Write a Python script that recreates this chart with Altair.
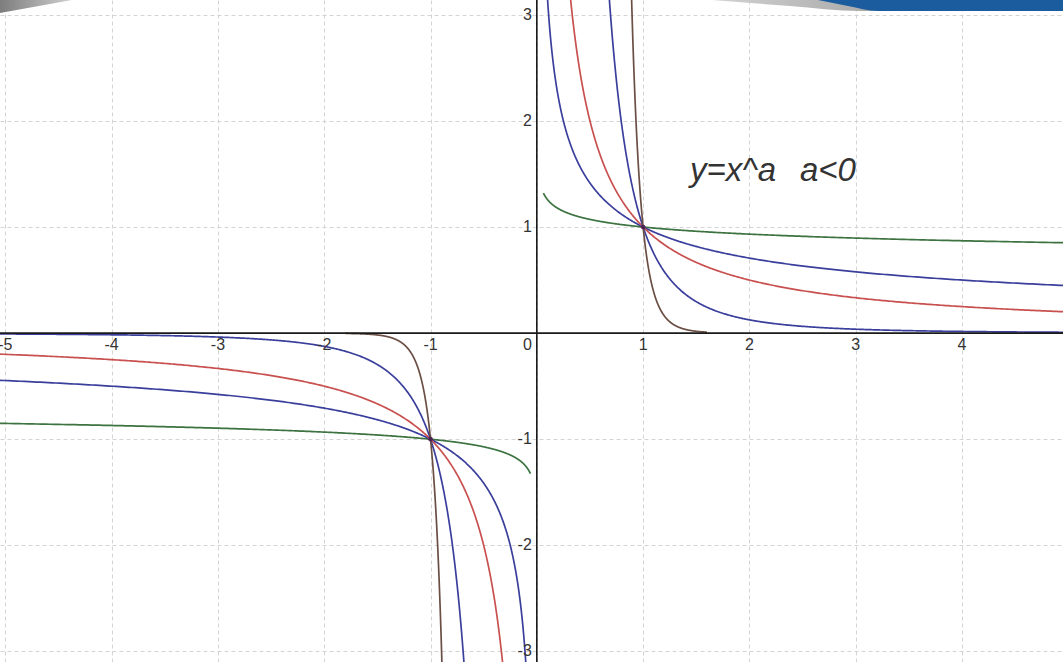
import altair as alt
import numpy as np
import pandas as pd

# Power functions y = x^a (a < 0), drawn as odd functions on both sides of the origin
exponents = [-0.1, -0.5, -1.0, -3.0, -10.0]
curve_names = ["a=-0.1", "a=-0.5", "a=-1", "a=-3", "a=-10"]
curve_colors = ["#3c7340", "#3b3f9c", "#c8504f", "#3b3f9c", "#6b4f45"]
right_start = [0.062, 0.10, 0.31, 0.68, 0.885]
right_end = [5.0, 5.0, 5.0, 5.0, 1.6]
left_start = [-5.05, -5.05, -5.05, -5.05, -1.8]
left_end = [-0.06, -0.10, -0.31, -0.68, -0.885]

x_ticks = [-5, -4, -3, -2, -1, 1, 2, 3, 4, 5]
y_ticks = [-3, -2, -1, 1, 2, 3]
x_grid = list(range(-5, 6))
y_grid = list(range(-3, 4))

X_DOMAIN = [-5.05, 4.95]
Y_DOMAIN = [-3.10, 3.14]

rows = []
for name, a, r0, r1, l0, l1 in zip(curve_names, exponents, right_start, right_end,
                                   left_start, left_end):
    for branch, xs in (("right", np.geomspace(r0, r1, 500)),
                       ("left", -np.geomspace(-l1, -l0, 500)[::-1])):
        ys = np.sign(xs) * np.abs(xs) ** a
        for x, y in zip(xs, ys):
            rows.append({"curve": name, "branch": name + branch, "x": x, "y": y})
curves = pd.DataFrame(rows)

xs_scale = alt.Scale(domain=X_DOMAIN, nice=False, zero=False)
ys_scale = alt.Scale(domain=Y_DOMAIN, nice=False, zero=False)

grid_x = alt.Axis(values=x_grid, grid=True, gridDash=[4, 3], gridColor="#d4d4d4",
                  gridWidth=1, labels=False, ticks=False, domain=False, title=None)
grid_y = alt.Axis(values=y_grid, grid=True, gridDash=[4, 3], gridColor="#d4d4d4",
                  gridWidth=1, labels=False, ticks=False, domain=False, title=None)

lines = alt.Chart(curves).mark_line(clip=True, strokeWidth=1.7).encode(
    x=alt.X("x:Q", scale=xs_scale, axis=grid_x),
    y=alt.Y("y:Q", scale=ys_scale, axis=grid_y),
    color=alt.Color("curve:N", scale=alt.Scale(domain=curve_names, range=curve_colors),
                    legend=None),
    detail="branch:N",
)

# Axes through the origin
x_axis_line = alt.Chart(pd.DataFrame({"y": [0]})).mark_rule(
    color="#1a1a1a", strokeWidth=1.6).encode(y=alt.Y("y:Q", scale=ys_scale))
y_axis_line = alt.Chart(pd.DataFrame({"x": [0]})).mark_rule(
    color="#1a1a1a", strokeWidth=1.6).encode(x=alt.X("x:Q", scale=xs_scale))

label_font = "Liberation Sans"
x_labels = alt.Chart(pd.DataFrame({"x": x_ticks, "y": [0] * len(x_ticks),
                                   "t": [str(v) for v in x_ticks]})).mark_text(
    font=label_font, fontSize=16, color="#333333", align="center", baseline="middle",
    dy=12, clip=True).encode(
    x=alt.X("x:Q", scale=xs_scale), y=alt.Y("y:Q", scale=ys_scale), text="t:N")

y_labels = alt.Chart(pd.DataFrame({"x": [0] * len(y_ticks), "y": y_ticks,
                                   "t": [str(v) for v in y_ticks]})).mark_text(
    font=label_font, fontSize=16, color="#333333", align="right", baseline="middle",
    dx=-5, clip=True).encode(
    x=alt.X("x:Q", scale=xs_scale), y=alt.Y("y:Q", scale=ys_scale), text="t:N")

zero_label = alt.Chart(pd.DataFrame({"x": [0], "y": [0], "t": ["0"]})).mark_text(
    font=label_font, fontSize=16, color="#333333", align="right", baseline="middle",
    dx=-5, dy=12).encode(
    x=alt.X("x:Q", scale=xs_scale), y=alt.Y("y:Q", scale=ys_scale), text="t:N")

# Common points (1, 1) and (-1, -1)
common = alt.Chart(pd.DataFrame({"x": [1, -1], "y": [1, -1]})).mark_point(
    filled=True, size=22, color="#4a1d4f", opacity=0.9).encode(
    x=alt.X("x:Q", scale=xs_scale), y=alt.Y("y:Q", scale=ys_scale))

# Formula caption
caption_x = [1.44, 2.475]
caption_y = [1.43, 1.43]
caption_t = ["y=x^a", "a<0"]
caption = alt.Chart(pd.DataFrame({"x": caption_x, "y": caption_y, "t": caption_t})).mark_text(
    font=label_font, fontSize=33, fontStyle="italic", color="#333333", align="left",
    baseline="alphabetic").encode(
    x=alt.X("x:Q", scale=xs_scale), y=alt.Y("y:Q", scale=ys_scale), text="t:N")

main = alt.layer(lines, x_axis_line, y_axis_line, x_labels, y_labels, zero_label,
                 common, caption)

# Slide banner decoration along the top edge (pixel-scaled layer)
px_x = alt.Scale(domain=[0, 1063], nice=False, zero=False)
px_y = alt.Scale(domain=[0, 662], nice=False, zero=False, reverse=True)
no_axis = None

banner_left = pd.DataFrame({"px": [0, 72], "top": [0, 0], "bottom": [13, 0]})
banner_gray = pd.DataFrame({"px": [712, 790, 860, 1063], "top": [0, 0, 0, 0],
                            "bottom": [0, 6, 11, 11]})
banner_blue = pd.DataFrame({"px": [818, 848, 878, 1063], "top": [0, 0, 0, 0],
                            "bottom": [0, 6, 11, 11]})

gray_fill = alt.Gradient(gradient="linear", stops=[
    alt.GradientStop(color="#7d7d7d", offset=0),
    alt.GradientStop(color="#d0d0d0", offset=1)], x1=0, x2=1, y1=0, y2=0)
gray_fill_r = alt.Gradient(gradient="linear", stops=[
    alt.GradientStop(color="#d2d2d2", offset=0),
    alt.GradientStop(color="#7a7a7a", offset=1)], x1=0, x2=1, y1=0, y2=0)


def banner(df, fill, interp):
    return alt.Chart(df).mark_area(fill=fill, interpolate=interp, clip=True).encode(
        x=alt.X("px:Q", scale=px_x, axis=no_axis),
        y=alt.Y("bottom:Q", scale=px_y, axis=no_axis),
        y2="top:Q",
    )


deco = alt.layer(
    banner(banner_left, gray_fill, "linear"),
    banner(banner_gray, gray_fill_r, "monotone"),
    banner(banner_blue, "#1b5c9e", "monotone"),
)

chart = alt.layer(main, deco).resolve_scale(x="independent", y="independent").properties(
    width=1063, height=662, padding=0,
    autosize=alt.AutoSizeParams(type="none"),
    background="white",
).configure_view(stroke=None)

chart.save("out.html", embed_options={"renderer": "svg", "actions": False})
